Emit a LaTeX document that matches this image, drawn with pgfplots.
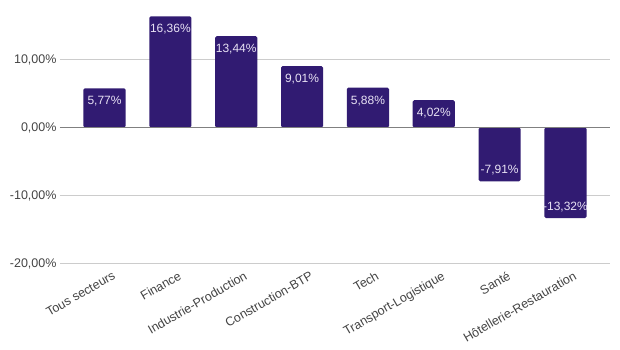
\documentclass[border=0pt]{standalone}
\usepackage{pgfplots}
\pgfplotsset{compat=1.18}
\usepackage{pgfplotstable}
\usepackage{fontspec}
\setmainfont{Liberation Sans}
\definecolor{barc}{HTML}{311B72}
\definecolor{tickc}{HTML}{444444}
\definecolor{gridc}{HTML}{CCCCCC}
\definecolor{labc}{HTML}{E8E2F4}
\pgfplotstableread{
x y lab
0 5.77 {5,77\%}
1 16.36 {16,36\%}
2 13.44 {13,44\%}
3 9.01 {9,01\%}
4 5.88 {5,88\%}
5 4.02 {4,02\%}
}\pos
\pgfplotstableread{
x y lab
6 -7.91 {-7,91\%}
7 -13.32 {-13,32\%}
}\negs
\begin{document}
\begin{tikzpicture}
\useasboundingbox (-60pt,-86.5pt) rectangle (560pt,263.5pt);
\begin{axis}[
  at={(0,0)}, anchor=south west,
  scale only axis, width=550pt, height=258.4pt,
  xmin=-0.676, xmax=7.676, ymin=-20, ymax=18,
  axis line style={draw=none},
  tick style={draw=none},
  xtick={0,...,7},
  xticklabels={Tous secteurs,Finance,Industrie-Production,Construction-BTP,Tech,Transport-Logistique,Santé,Hôtellerie-Restauration},
  xticklabel style={rotate=30, anchor=north east, font=\fontsize{12.5}{14}\selectfont, text=tickc, xshift=6pt, yshift=-5pt, inner sep=1pt},
  ytick={-20,-10,0,10},
  yticklabels={{-20,00\%},{-10,00\%},{0,00\%},{10,00\%}},
  yticklabel style={font=\fontsize{12.5}{14}\selectfont, text=tickc},
  ymajorgrids, grid style={gridc, line width=0.8pt},
  ybar, bar width=0.64,
]
\addplot[fill=barc, draw=none, bar shift=0pt, rounded corners=1.5pt,
  nodes near coords, point meta=explicit symbolic,
  every node near coord/.append style={anchor=north, yshift=-7pt, text=labc, font=\fontsize{12}{14}\selectfont, inner sep=1pt}]
  table[x=x, y=y, meta=lab] {\pos};
\addplot[fill=barc, draw=none, bar shift=0pt, rounded corners=1.5pt,
  nodes near coords, point meta=explicit symbolic,
  every node near coord/.append style={anchor=south, yshift=5pt, text=labc, font=\fontsize{12}{14}\selectfont, inner sep=1pt}]
  table[x=x, y=y, meta=lab] {\negs};
\draw[color=gray, line width=1.2pt] (axis cs:-0.676,0) -- (axis cs:7.676,0);
\end{axis}
\end{tikzpicture}
\end{document}
